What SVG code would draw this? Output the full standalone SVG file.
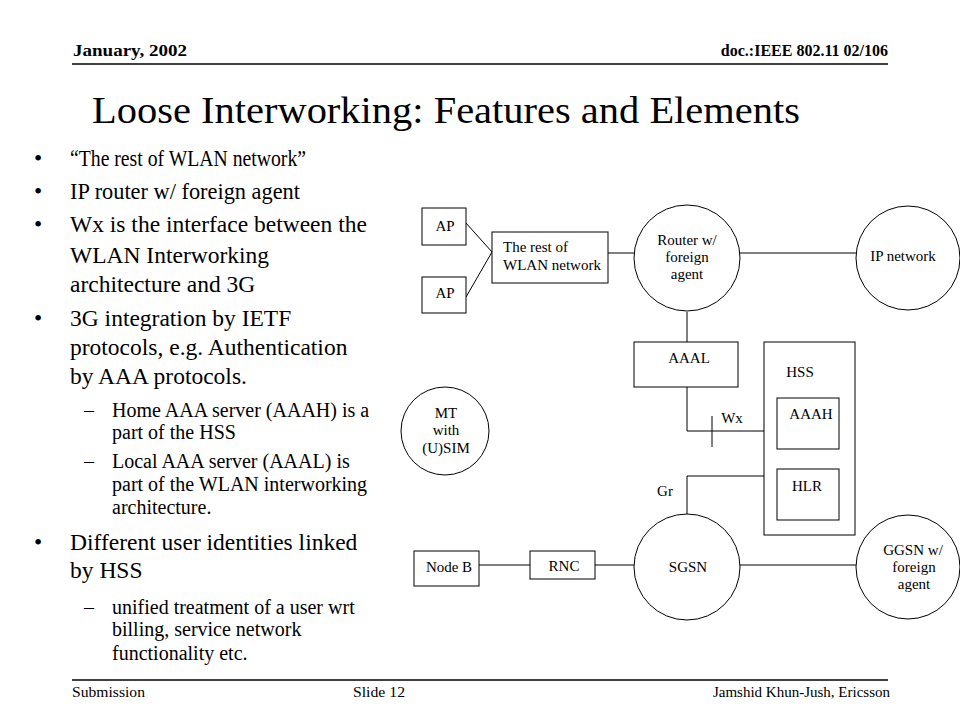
<svg xmlns="http://www.w3.org/2000/svg" width="960" height="720" viewBox="0 0 960 720">
<style>
text{font-family:"Liberation Serif","Times New Roman",serif;fill:#000}
.hd{font-size:16px;font-weight:bold}
.ti{font-size:37px}
.b1{font-size:23.5px}
.b2{font-size:20px}
.ft{font-size:15px}
.n{font-size:15px;text-anchor:middle}
.l{font-size:15px}
.s{fill:#fff;stroke:#000;stroke-width:1}
.c{fill:none;stroke:#000;stroke-width:1}
.rule{stroke:#000;stroke-width:1.5}
</style>
<rect width="960" height="720" fill="#fff"/>
<g id="header">
<text class="hd" x="73" y="56" textLength="114" lengthAdjust="spacingAndGlyphs">January, 2002</text>
<text class="hd" x="888" y="56" text-anchor="end">doc.:IEEE 802.11 02/106</text>
<line class="rule" x1="72" y1="64" x2="888" y2="64"/>
<text class="ti" x="92" y="123" textLength="708" lengthAdjust="spacingAndGlyphs">Loose Interworking: Features and Elements</text>
</g>
<g id="bullets">
<text class="b1" x="34" y="166">•</text><text class="b1" x="70" y="166" textLength="236" lengthAdjust="spacingAndGlyphs">“The rest of WLAN network”</text>
<text class="b1" x="34" y="199">•</text><text class="b1" x="70" y="199" textLength="230" lengthAdjust="spacingAndGlyphs">IP router w/ foreign agent</text>
<text class="b1" x="34" y="232">•</text><text class="b1" x="70" y="232">Wx is the interface between the</text>
<text class="b1" x="70" y="263">WLAN Interworking</text>
<text class="b1" x="70" y="292">architecture and 3G</text>
<text class="b1" x="34" y="326">•</text><text class="b1" x="70" y="326">3G integration by IETF</text>
<text class="b1" x="70" y="355">protocols, e.g. Authentication</text>
<text class="b1" x="70" y="384">by AAA protocols.</text>
<text class="b2" x="84" y="417">–</text><text class="b2" x="112" y="417">Home AAA server (AAAH) is a</text>
<text class="b2" x="112" y="439">part of the HSS</text>
<text class="b2" x="84" y="468">–</text><text class="b2" x="112" y="468">Local AAA server (AAAL) is</text>
<text class="b2" x="112" y="491">part of the WLAN interworking</text>
<text class="b2" x="112" y="514">architecture.</text>
<text class="b1" x="34" y="550">•</text><text class="b1" x="70" y="550">Different user identities linked</text>
<text class="b1" x="70" y="578">by HSS</text>
<text class="b2" x="84" y="614">–</text><text class="b2" x="112" y="614">unified treatment  of a user wrt</text>
<text class="b2" x="112" y="636">billing, service network</text>
<text class="b2" x="112" y="660">functionality etc.</text>
</g>
<g id="connectors">
<line class="c" x1="466" y1="223" x2="492" y2="252"/>
<line class="c" x1="466" y1="297" x2="492" y2="252"/>
<line class="c" x1="608" y1="253" x2="634" y2="253"/>
<line class="c" x1="739" y1="253" x2="856" y2="253"/>
<line class="c" x1="687" y1="312" x2="687" y2="342"/>
<polyline class="c" points="687,387 687,431 764,431"/>
<line class="c" x1="712" y1="416" x2="712" y2="447"/>
<polyline class="c" points="764,476 687,476 687,514"/>
<line class="c" x1="479" y1="565" x2="530" y2="565"/>
<line class="c" x1="595" y1="565" x2="634" y2="565"/>
<line class="c" x1="739" y1="565" x2="856" y2="565"/>
<text class="n" x="732" y="423">Wx</text>
<text class="n" x="665" y="496">Gr</text>
</g>
<g id="ap1"><rect class="s" x="422" y="208" width="44" height="37"/><text class="n" x="445" y="231">AP</text></g>
<g id="ap2"><rect class="s" x="422" y="277" width="44" height="36"/><text class="n" x="445" y="298">AP</text></g>
<g id="rest"><rect class="s" x="492" y="232" width="116" height="51"/><text class="l" x="503" y="252">The rest of</text><text class="l" x="503" y="270">WLAN network</text></g>
<g id="router"><circle class="s" cx="687" cy="258" r="53"/><text class="n" x="687" y="245">Router w/</text><text class="n" x="687" y="262">foreign</text><text class="n" x="687" y="279">agent</text></g>
<g id="ipnet"><circle class="s" cx="908" cy="258" r="52"/><text class="n" x="903" y="261">IP network</text></g>
<g id="aaal"><rect class="s" x="634" y="342" width="104" height="45"/><text class="n" x="689" y="363">AAAL</text></g>
<g id="hss"><rect class="s" x="764" y="342" width="91" height="193"/><text class="n" x="800" y="377">HSS</text>
<g id="aaah"><rect class="s" x="777" y="398" width="62" height="51"/><text class="n" x="811" y="419">AAAH</text></g>
<g id="hlr"><rect class="s" x="777" y="469" width="62" height="51"/><text class="n" x="807" y="491">HLR</text></g>
</g>
<g id="mt"><circle class="s" cx="445" cy="431" r="44"/><text class="n" x="446" y="418">MT</text><text class="n" x="446" y="435">with</text><text class="n" x="446" y="453">(U)SIM</text></g>
<g id="nodeb"><rect class="s" x="414" y="551" width="65" height="35"/><text class="n" x="449" y="572">Node B</text></g>
<g id="rnc"><rect class="s" x="530" y="551" width="65" height="28"/><text class="n" x="564" y="571">RNC</text></g>
<g id="sgsn"><circle class="s" cx="687" cy="567" r="53"/><text class="n" x="688" y="572">SGSN</text></g>
<g id="ggsn"><circle class="s" cx="908" cy="567" r="52"/><text class="n" x="913" y="555">GGSN w/</text><text class="n" x="914" y="572">foreign</text><text class="n" x="914" y="589">agent</text></g>
<g id="footer">
<line class="rule" x1="72" y1="680" x2="888" y2="680"/>
<text class="ft" x="72" y="697" textLength="73" lengthAdjust="spacingAndGlyphs">Submission</text>
<text class="ft" x="353" y="697" textLength="52" lengthAdjust="spacingAndGlyphs">Slide 12</text>
<text class="ft" x="890" y="697" text-anchor="end">Jamshid Khun-Jush, Ericsson</text>
</g>
</svg>
